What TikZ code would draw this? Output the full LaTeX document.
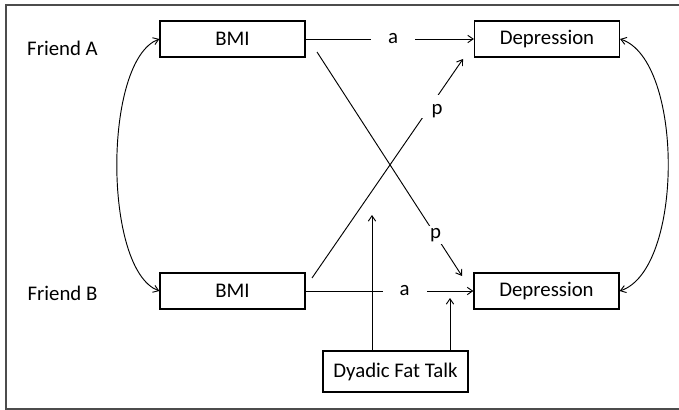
\documentclass[tikz,border=0pt]{standalone}
\usepackage{fontspec}
\setmainfont{Carlito}
\usetikzlibrary{arrows.meta,calc}
\begin{document}
\begin{tikzpicture}[x=0.75pt,y=-0.75pt,
  font=\fontsize{15.6}{18}\selectfont,
  box/.style={draw, line width=0.9pt, minimum width=108.75pt, minimum height=27pt, inner sep=0pt},
  conn/.style={line width=0.7pt, -{Straight Barb[length=4pt,width=5.5pt]}},
  both/.style={line width=0.7pt, {Straight Barb[length=4pt,width=5.5pt]}-{Straight Barb[length=4pt,width=5.5pt]}},
  gap/.style={fill=white, inner sep=0pt}]
\useasboundingbox (0,0) rectangle (679,410);
\draw[line width=1.1pt, black!70] (680,5) -- (6,5) -- (6,409) -- (680,409);

\node[box] (bmiA) at (232.5,39) {BMI};
\node[box] (depA) at (547,39) {Depression};
\node[box] (bmiB) at (232.5,291) {BMI};
\node[box] (depB) at (546.5,291) {Depression};
\node[box, minimum height=30.75pt] (dft) at (395.5,371.5) {Dyadic Fat Talk};
\node (fa) at (62.5,48) {Friend A};
\node (fb) at (62.5,293) {Friend B};

\draw[conn] (bmiA.east) -- node[gap, minimum width=33pt, minimum height=15pt, pos=0.52] (la) {a} (depA.west);
\draw[conn] (bmiB.east) -- node[gap, minimum width=33pt, minimum height=15pt, pos=0.59] (lb) {a} (depB.west);

\coordinate (d1s) at (317,52);
\coordinate (d1e) at (462,276);
\coordinate (d2s) at (312,278);
\coordinate (d2e) at (463,59);
\draw[conn] (d1s) -- node[gap, minimum size=13.6pt, pos=0.817] (p1) {p} (d1e);
\draw[conn] (d2s) -- node[gap, minimum size=17.25pt, pos=0.783] (g2) {} (d2e);
\node (p2) at (437,111) {p};

\coordinate (v1) at (372,215);
\coordinate (v2) at (450,298);
\draw[conn] (dft.north -| v1) -- (v1);
\draw[conn] (dft.north -| v2) -- (v2);

\draw[both] (bmiA.west) .. controls (103,60) and (103,270) .. (bmiB.west);
\draw[both] (depA.east) .. controls (684,60) and (684,270) .. (depB.east);
\end{tikzpicture}
\end{document}
